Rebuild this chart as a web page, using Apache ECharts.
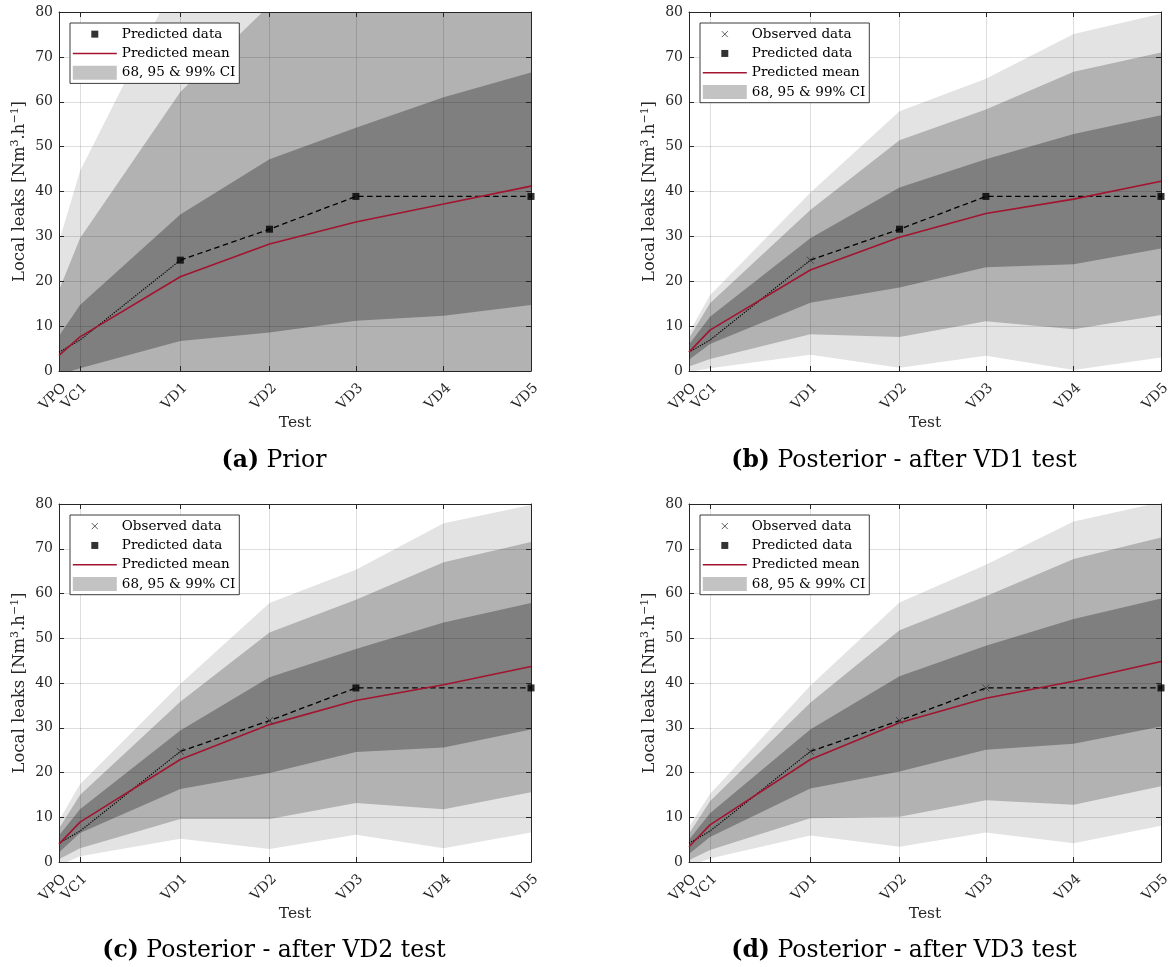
<!DOCTYPE html>
<html><head><meta charset="utf-8">
<script src="https://cdn.jsdelivr.net/npm/echarts@6/dist/echarts.min.js"></script>
<style>html,body{margin:0;padding:0;background:#fff}#c{width:1172px;height:967px}</style>
</head><body><div id="c"></div>
<script>
// ---------- data ----------
const testNames = ['VPO', 'VC1', 'VD1', 'VD2', 'VD3', 'VD4', 'VD5'];
const testPos = [0, 4.45, 25.7, 44.6, 62.9, 81.5, 100];

const panelLetters = ['(a)', '(b)', '(c)', '(d)'];
const panelCaptions = ['Prior', 'Posterior - after VD1 test', 'Posterior - after VD2 test', 'Posterior - after VD3 test'];

// leak measurements
const historyTests = ['VPO', 'VC1', 'VD1'];
const historyValues = [4.2, 6.9, 24.7];
const dataTests = ['VD1', 'VD2', 'VD3', 'VD5'];
const dataValues = [24.7, 31.6, 38.9, 38.9];
const observedCount = [0, 1, 2, 3];

// (a) Prior
const meanA = [3.5, 7.6, 21.0, 28.3, 33.2, 37.2, 41.2];
const lo99A = [-22, -29, -47, -60, -70, -78, -85];
const lo95A = [-11, -14.4, -20, -24, -28, -32, -35];
const lo68A = [-0.8, 0.6, 6.7, 8.6, 11.2, 12.3, 14.7];
const hi68A = [7.8, 14.7, 34.9, 47.2, 54.2, 61.0, 66.5];
const hi95A = [18.0, 29.6, 62.2, 81.5, 92, 100, 108];
const hi99A = [28.8, 44.5, 88.9, 105, 118, 128, 136];
// (b) Posterior after VD1
const meanB = [4.2, 9.1, 22.5, 29.8, 35.1, 38.3, 42.3];
const lo99B = [-0.2, 0.6, 3.6, 0.7, 3.4, 0.2, 3.0];
const lo95B = [1.0, 2.7, 8.2, 7.6, 11.1, 9.3, 12.5];
const lo68B = [2.5, 6.0, 15.2, 18.6, 23.1, 23.8, 27.3];
const hi68B = [5.9, 12.1, 29.6, 40.9, 47.2, 52.8, 57.0];
const hi95B = [7.3, 15.1, 35.9, 51.4, 58.3, 66.7, 71.0];
const hi99B = [8.5, 16.9, 39.7, 57.9, 65.1, 75.1, 79.6];
// (c) Posterior after VD2
const meanC = [4.0, 8.9, 22.9, 30.7, 36.1, 39.6, 43.7];
const lo99C = [-0.8, 1.3, 5.2, 2.9, 6.1, 3.1, 6.6];
const lo95C = [0.6, 3.1, 9.6, 9.6, 13.2, 11.8, 15.6];
const lo68C = [2.1, 6.5, 16.3, 19.9, 24.6, 25.6, 29.6];
const hi68C = [5.9, 11.8, 29.4, 41.3, 47.6, 53.5, 57.9];
const hi95C = [7.5, 15.0, 35.8, 51.3, 58.6, 67.0, 71.5];
const hi99C = [9.3, 17.4, 39.8, 57.9, 65.3, 75.7, 79.8];
// (d) Posterior after VD3
const meanD = [3.4, 8.3, 22.9, 31.1, 36.6, 40.4, 44.8];
const lo99D = [-1.0, 0.8, 5.9, 3.4, 6.6, 4.2, 8.1];
const lo95D = [0.4, 2.7, 9.8, 10.1, 13.8, 12.8, 16.9];
const lo68D = [1.8, 5.6, 16.4, 20.2, 25.1, 26.4, 30.3];
const hi68D = [5.0, 10.9, 29.6, 41.5, 48.3, 54.3, 58.9];
const hi95D = [6.3, 13.6, 35.6, 51.8, 59.4, 67.7, 72.5];
const hi99D = [7.8, 15.2, 39.4, 58.0, 66.4, 76.1, 80.4];

// ---------- layout / style ----------
const FONT = 'DejaVu Serif';
const AX = '#262626';
const RED = '#A2142F';
const gridBoxes = [[59, 12, 472, 359], [689, 12, 472, 359], [59, 504, 472, 358], [689, 504, 472, 358]];
const captionPos = [[274, 461], [904, 461], [274, 951], [904, 951]];
const legendPos = [[70, 23], [700, 23], [70, 515], [700, 515]];

const panels = [
  {mean: meanA, lo99: lo99A, lo95: lo95A, lo68: lo68A, hi68: hi68A, hi95: hi95A, hi99: hi99A},
  {mean: meanB, lo99: lo99B, lo95: lo95B, lo68: lo68B, hi68: hi68B, hi95: hi95B, hi99: hi99B},
  {mean: meanC, lo99: lo99C, lo95: lo95C, lo68: lo68C, hi68: hi68C, hi95: hi95C, hi99: hi99C},
  {mean: meanD, lo99: lo99D, lo95: lo95D, lo68: lo68D, hi68: hi68D, hi95: hi95D, hi99: hi99D}
];

function posOf(name) { return testPos[testNames.indexOf(name)]; }
function nameOf(v) {
  for (let i = 0; i < testPos.length; i++) if (Math.abs(testPos[i] - v) < 1e-6) return testNames[i];
  return '';
}

function bandSeries(p, lo, hi, color, name) {
  return {
    type: 'custom', name: name, xAxisIndex: p, yAxisIndex: p, z: 1, silent: true, clip: true,
    data: testPos.map((x, i) => [x, lo[i], hi[i]]),
    encode: {x: 0, y: [1, 2]},
    renderItem: function (params, api) {
      if (params.dataIndex !== 0) return null;
      const top = testPos.map((x, i) => api.coord([x, hi[i]]));
      const bot = testPos.map((x, i) => api.coord([x, lo[i]])).reverse();
      const cs = params.coordSys;
      return {
        type: 'polygon', shape: {points: top.concat(bot)}, style: {fill: color},
        clipPath: {type: 'rect', shape: {x: cs.x, y: cs.y, width: cs.width, height: cs.height}}
      };
    }
  };
}

const grids = [], xAxes = [], yAxes = [], series = [], legends = [], graphics = [];
const crossPath = 'path://M0 0L10 10M10 0L0 10';

panels.forEach((pd, p) => {
  const g = gridBoxes[p];
  grids.push({left: g[0], top: g[1], width: g[2], height: g[3], containLabel: false, outerBoundsMode: 'none'});

  xAxes[p] = {
    type: 'value', gridIndex: p, min: 0, max: 100, position: 'bottom', z: 3,
    axisLine: {show: true, onZero: false, lineStyle: {color: AX, width: 1}},
    axisTick: {show: true, inside: true, length: 5, customValues: testPos, lineStyle: {color: AX, width: 1}},
    axisLabel: {show: true, customValues: testPos, formatter: nameOf, rotate: 45, margin: 10,
      align: 'right', verticalAlign: 'top', showMinLabel: true, showMaxLabel: true,
      fontFamily: FONT, fontSize: 14, color: AX, hideOverlap: false},
    splitLine: {show: true, lineStyle: {color: 'rgba(0,0,0,0.13)', width: 1}},
    name: 'Test', nameLocation: 'middle', nameGap: 44, nameMoveOverlap: false,
    nameTextStyle: {fontFamily: FONT, fontSize: 15.5, color: AX}
  };
  xAxes[4 + p] = {
    type: 'value', gridIndex: p, min: 0, max: 100, position: 'top', z: 3,
    axisLine: {show: true, onZero: false, lineStyle: {color: AX, width: 1}},
    axisTick: {show: true, inside: true, length: 5, customValues: testPos, lineStyle: {color: AX, width: 1}},
    axisLabel: {show: false}, splitLine: {show: false}
  };
  yAxes[p] = {
    type: 'value', gridIndex: p, min: 0, max: 80, interval: 10, position: 'left', z: 3,
    axisLine: {show: true, onZero: false, lineStyle: {color: AX, width: 1}},
    axisTick: {show: true, inside: true, length: 5, lineStyle: {color: AX, width: 1}},
    axisLabel: {show: true, margin: 6, fontFamily: FONT, fontSize: 14, color: AX},
    splitLine: {show: true, lineStyle: {color: 'rgba(0,0,0,0.13)', width: 1}},
    name: 'Local leaks [Nm{sup|3}.h{sup|\u22121}]', nameLocation: 'middle', nameGap: 29, nameRotate: 90,
    nameMoveOverlap: false,
    nameTextStyle: {fontFamily: FONT, fontSize: 16.5, color: AX, lineHeight: 20,
      rich: {sup: {fontFamily: FONT, fontSize: 11, color: AX, verticalAlign: 'top', lineHeight: 12}}}
  };
  yAxes[4 + p] = {
    type: 'value', gridIndex: p, min: 0, max: 80, interval: 10, position: 'right', z: 3,
    axisLine: {show: true, onZero: false, lineStyle: {color: AX, width: 1}},
    axisTick: {show: true, inside: true, length: 5, lineStyle: {color: AX, width: 1}},
    axisLabel: {show: false}, splitLine: {show: false}
  };

  // confidence bands
  series.push(bandSeries(p, pd.lo99, pd.hi99, '#e3e3e3', '68, 95 & 99% CI'));
  series.push(bandSeries(p, pd.lo95, pd.hi95, '#b2b2b2', 'CI95'));
  series.push(bandSeries(p, pd.lo68, pd.hi68, '#7f7f7f', 'CI68'));

  // historical (dotted) and predicted (dashed) paths
  series.push({
    type: 'line', name: 'history', xAxisIndex: p, yAxisIndex: p, z: 5, silent: true,
    data: historyTests.map((t, i) => [posOf(t), historyValues[i]]),
    symbol: 'none', lineStyle: {color: '#000', width: 1.2, type: [1.2, 1.3]}
  });
  series.push({
    type: 'line', name: 'path', xAxisIndex: p, yAxisIndex: p, z: 5, silent: true,
    data: dataTests.map((t, i) => [posOf(t), dataValues[i]]),
    symbol: 'none', lineStyle: {color: '#000', width: 1.3, type: [5.5, 3.5]}
  });
  // predicted mean
  series.push({
    type: 'line', name: 'Predicted mean', xAxisIndex: p, yAxisIndex: p, z: 6, silent: true,
    data: testPos.map((x, i) => [x, pd.mean[i]]),
    symbol: 'none', lineStyle: {color: RED, width: 1.6}, itemStyle: {color: RED}
  });
  // observed / predicted data
  const nObs = observedCount[p];
  if (nObs > 0) {
    series.push({
      type: 'scatter', name: 'Observed data', xAxisIndex: p, yAxisIndex: p, z: 7, silent: true, clip: false,
      data: dataTests.slice(0, nObs).map((t, i) => [posOf(t), dataValues[i]]),
      symbol: crossPath, symbolSize: 7,
      itemStyle: {color: 'rgba(0,0,0,0)', borderColor: '#333', borderWidth: 1}
    });
  }
  series.push({
    type: 'scatter', name: 'Predicted data', xAxisIndex: p, yAxisIndex: p, z: 7, silent: true, clip: false,
    data: dataTests.slice(nObs).map((t, i) => [posOf(t), dataValues[nObs + i]]),
    symbol: 'rect', symbolSize: 7, itemStyle: {color: '#000'}
  });

  // legend
  const items = [];
  if (nObs > 0) items.push({name: 'Observed data', icon: 'path://M0 0M44 14M19 4L25 10M25 4L19 10',
    itemStyle: {color: 'rgba(0,0,0,0)', borderColor: '#333', borderWidth: 1}});
  items.push({name: 'Predicted data', icon: 'path://M0 0M44 14M18.5 3.5L25.5 3.5L25.5 10.5L18.5 10.5Z',
    itemStyle: {color: '#000', borderWidth: 0}});
  items.push({name: 'Predicted mean', icon: 'path://M0 0M44 14M0 7L44 7',
    itemStyle: {color: 'rgba(0,0,0,0)', borderColor: RED, borderWidth: 1.6}});
  items.push({name: '68, 95 & 99% CI', icon: 'rect', itemStyle: {color: '#c3c3c3', borderWidth: 0}});
  legends.push({
    left: legendPos[p][0], top: legendPos[p][1], orient: 'vertical', selectedMode: false,
    itemWidth: 44, itemHeight: 14, itemGap: 0, padding: [1.5, 4, 1, 2],
    borderColor: AX, borderWidth: 0.9, backgroundColor: '#fff', z: 10,
    textStyle: {fontFamily: FONT, fontSize: 13.5, color: '#000', lineHeight: 19.3},
    data: items
  });

  graphics.push({
    type: 'text', x: captionPos[p][0], y: captionPos[p][1], z: 10,
    style: {
      text: '{b|' + panelLetters[p] + '} ' + panelCaptions[p],
      fontFamily: FONT, fontSize: 23.5, fill: '#000', align: 'center', verticalAlign: 'middle',
      rich: {b: {fontFamily: FONT, fontSize: 23.5, fontWeight: 'bold', fill: '#000'}}
    }
  });
});

const chart = echarts.init(document.getElementById('c'), null, {renderer: 'canvas', width: 1172, height: 967});
chart.setOption({
  animation: false,
  backgroundColor: '#fff',
  grid: grids,
  xAxis: xAxes,
  yAxis: yAxes,
  legend: legends,
  series: series,
  graphic: graphics
});
</script>
</body></html>
